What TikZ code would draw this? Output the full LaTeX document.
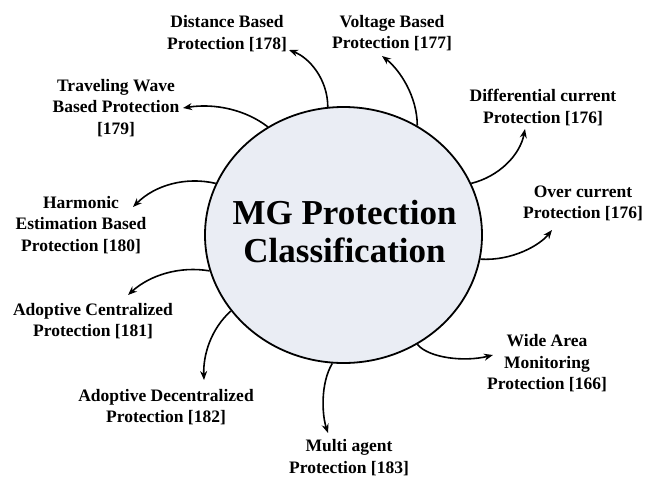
\documentclass[tikz,border=0pt]{standalone}
\usepackage{fontspec}
\setmainfont{Liberation Serif}
\usetikzlibrary{shapes.geometric,arrows.meta}
\begin{document}
\begin{tikzpicture}[x=1pt,y=-1pt,
  hub/.style={ellipse,draw=black,line width=1.8pt,fill={rgb,255:red,234;green,237;blue,244},
    minimum width=277pt,minimum height=256pt,inner sep=0pt},
  item/.style={align=center,inner sep=0pt,font=\fontsize{17.5}{21.5}\selectfont\bfseries},
  link/.style={line width=1.6pt,-{Stealth[length=9pt,width=7pt]}}]
\useasboundingbox (0,0) rectangle (659,480);

% central classification bubble
\node[hub] (mg) at (343.5,235) {};
\node[font=\fontsize{35}{38}\selectfont\bfseries,align=center,inner sep=0pt] (title) at (344.5,232) {MG Protection\\Classification};

% protection schemes
\node[item] (dist)  at (227,33.5)  {Distance Based\\Protection [178]};
\node[item] (volt)  at (392,33)    {Voltage Based\\Protection [177]};
\node[item] (diff)  at (543,107.5) {Differential current\\Protection [176]};
\node[item] (over)  at (583,203.5) {Over current\\Protection [176]};
\node[item] (wide)  at (547,363.5) {Wide Area\\Monitoring\\Protection [166]};
\node[item] (multi) at (349,457.5) {Multi agent\\Protection [183]};
\node[item] (adec)  at (166,407)   {Adoptive Decentralized\\Protection [182]};
\node[item] (acen)  at (93,321)    {Adoptive Centralized\\Protection [181]};
\node[item] (harm)  at (81,225)    {Harmonic\\Estimation Based\\Protection [180]};
\node[item] (trav)  at (116,108)   {Traveling Wave\\Based Protection\\{[179]}};

% arrow tips beside each label
\coordinate (tdist)  at (289,50);
\coordinate (tvolt)  at (382,56);
\coordinate (tdiff)  at (525,129);
\coordinate (tover)  at (552,230);
\coordinate (twide)  at (493,355);
\coordinate (tmulti) at (328,433);
\coordinate (tadec)  at (204,380);
\coordinate (tacen)  at (128,295);
\coordinate (tharm)  at (133,207);
\coordinate (ttrav)  at (183,108);

% curved connectors leaving the bubble
\draw[link] (mg.97.3)  .. controls +(0,-27)  and +(21,8)    .. (tdist);
\draw[link] (mg.56.8)  .. controls +(0,-29)  and +(18,14)   .. (tvolt);
\draw[link] (mg.22.4)  .. controls +(28,-7)  and +(-5,26)   .. (tdiff);
\draw[link] (mg.-10.2) .. controls +(32,2)   and +(-12,15)  .. (tover);
\draw[link] (mg.-56.1) .. controls +(12,14)  and +(-28,7)   .. (twide);
\draw[link] (mg.-95)   .. controls +(-12,20) and +(-6,-18)  .. (tmulti);
\draw[link] (mg.214.2) .. controls +(-20,18) and +(-1,-25)  .. (tadec);
\draw[link] (mg.195.9) .. controls +(-30,-5) and +(22,-20)  .. (tacen);
\draw[link] (mg.158.7) .. controls +(-30,-7) and +(22,-22)  .. (tharm);
\draw[link] (mg.125.3) .. controls +(-22,-17) and +(32,-5)  .. (ttrav);
\end{tikzpicture}
\end{document}
